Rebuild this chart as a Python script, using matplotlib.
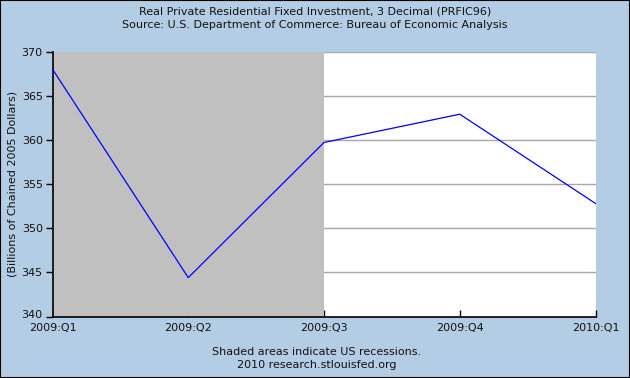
import matplotlib
matplotlib.use("Agg")
import matplotlib.pyplot as plt
from matplotlib.patches import Rectangle
from matplotlib.transforms import ScaledTranslation

quarters = ["2009:Q1", "2009:Q2", "2009:Q3", "2009:Q4", "2010:Q1"]
values = [368.0, 344.4, 359.7, 362.9, 352.8]
recession_start = 0
recession_end = 2
yticks = [340, 345, 350, 355, 360, 365, 370]

bg = "#B3CDE4"
W, H = 630, 378
plt.rcParams['font.family'] = ['DejaVu Sans']
fig = plt.figure(figsize=(W / 100, H / 100), dpi=100, facecolor=bg)

L, R, T, B = 52.5, 595.5, 51.5, 316.5
ax = fig.add_axes([L / W, 1 - B / H, (R - L) / W, (B - T) / H])
ax.set_facecolor("white")
x = list(range(len(quarters)))
ax.set_xlim(0, len(quarters) - 1)
ax.set_ylim(340, 370)
for yv in yticks[1:]:
    ax.axhline(yv, color="#A8A8A8", lw=1.0, zorder=1)
ax.axvspan(recession_start, recession_end, color="#C0C0C0", lw=0, zorder=2)
ax.plot(x, values, color="#0000FF", lw=0.9, zorder=3)

for s in ["top", "right"]:
    ax.spines[s].set_visible(False)
ax.spines["left"].set_linewidth(1.2)
ax.spines["bottom"].set_linewidth(1.2)
ax.set_yticks(yticks)
ax.set_yticklabels([str(v) for v in yticks], fontsize=8, color="#111111")
ax.tick_params(axis="y", direction="out", length=5, width=1, pad=2)
ax.set_xticks(x)
ax.set_xticklabels(quarters, fontsize=8, color="#111111")
ax.tick_params(axis="x", direction="in", length=5, width=1, pad=5)
# lift the bottom y label slightly so it clears the first x label
lbl340 = ax.get_yticklabels()[0]
lbl340.set_transform(lbl340.get_transform() + ScaledTranslation(0, 3 / 100, fig.dpi_scale_trans))
ax.set_ylabel("(Billions of Chained 2005 Dollars)", fontsize=8, color="#111111")
ax.yaxis.set_label_coords(-(L - 18) / (R - L), 0.5)

fig.text(0.5, 1 - 12 / H, "Real Private Residential Fixed Investment, 3 Decimal (PRFIC96)",
         ha="center", va="center", fontsize=8, color="#111111")
fig.text(0.5, 1 - 25 / H, "Source: U.S. Department of Commerce: Bureau of Economic Analysis",
         ha="center", va="center", fontsize=8, color="#111111")
fig.text(317 / W, 1 - 352 / H, "Shaded areas indicate US recessions.",
         ha="center", va="center", fontsize=8, color="#111111")
fig.text(317 / W, 1 - 365 / H, "2010 research.stlouisfed.org",
         ha="center", va="center", fontsize=8, color="#111111")

fig.patches.append(Rectangle((0, 0), 1, 1, transform=fig.transFigure, fill=False,
                             edgecolor="black", lw=1.5))
fig.savefig("out.png", dpi=100, facecolor=bg)
